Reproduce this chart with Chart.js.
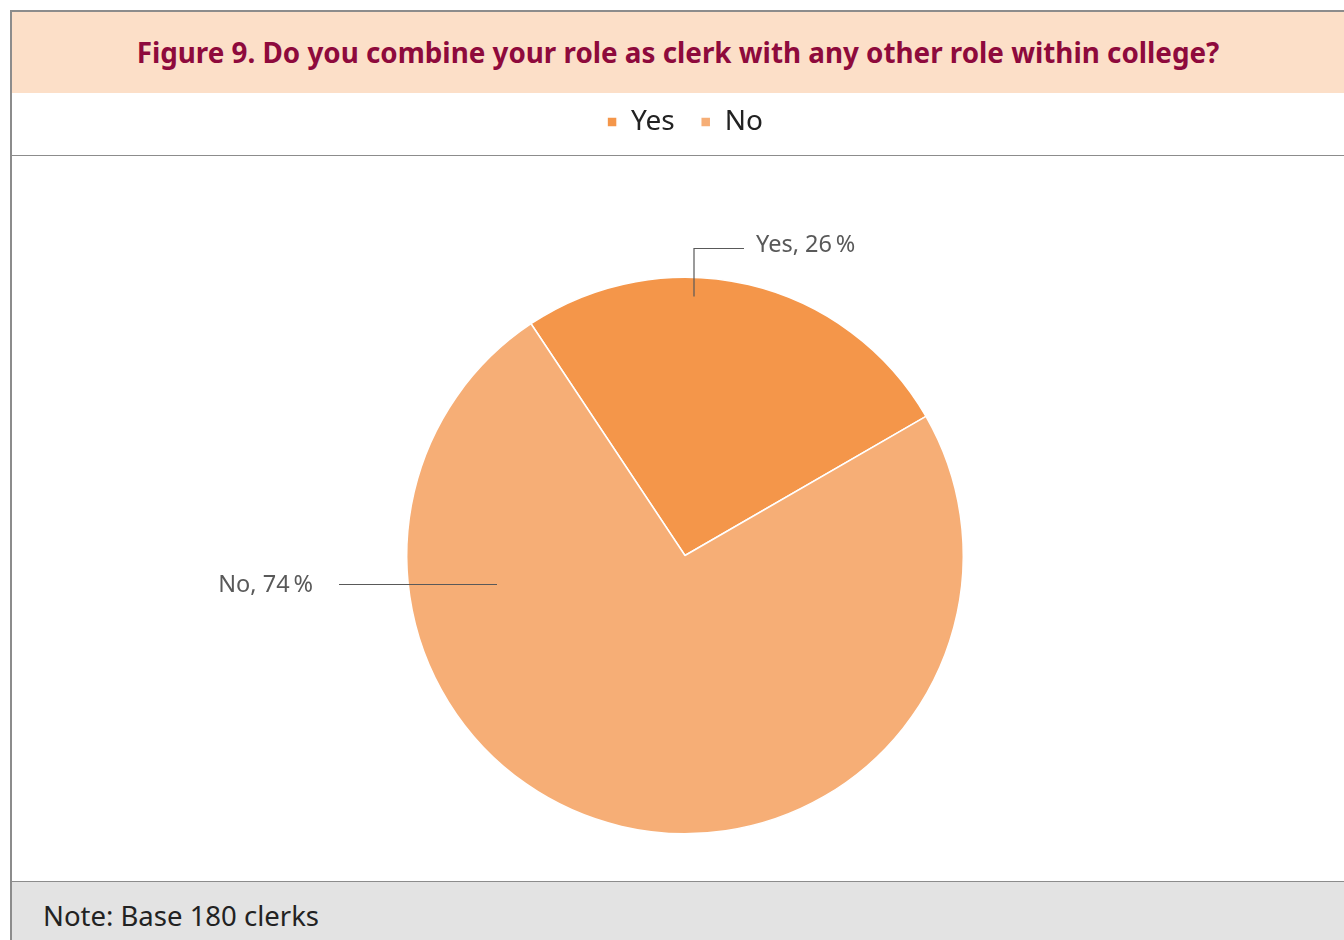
<!DOCTYPE html>
<html>
<head>
<meta charset="utf-8">
<script src="https://cdn.jsdelivr.net/npm/chart.js@4/dist/chart.umd.min.js"></script>
<style>
  body { margin: 0; background: #fff; width: 1344px; height: 940px; overflow: hidden; font-family: "Noto Sans", sans-serif; }
  #frame { position: absolute; left: 10px; top: 10px; width: 1340px; height: 940px; border-left: 2px solid #8c8c8c; border-top: 2px solid #8c8c8c; }
  #head { position: absolute; left: 12px; top: 12px; width: 1332px; height: 81px; background: #fcdfc8; }
  #head h1 { margin: 0; line-height: 81px; text-align: center; font-size: 27.8px; font-weight: 700; color: #8e0a3c; }
  #sep { position: absolute; left: 12px; top: 155px; width: 1332px; height: 1px; background: #8c8c8c; }
  #wrap { position: absolute; left: 12px; top: 80px; width: 1332px; height: 893px; }
  #foot { position: absolute; left: 12px; top: 881px; width: 1332px; height: 59px; background: #e3e3e3; border-top: 1px solid #8c8c8c; }
  #foot p { margin: 0; padding-left: 31px; line-height: 68px; font-size: 27.5px; color: #222; }
</style>
</head>
<body>
<div id="frame"></div>
<div id="head"><h1>Figure 9. Do you combine your role as clerk with any other role within college?</h1></div>
<div id="wrap"><canvas id="chart"></canvas></div>
<div id="sep"></div>
<div id="foot"><p>Note: Base 180 clerks</p></div>
<script>
const categories = ["Yes", "No"];
const shares = [26, 74];
const colours = ["#f4964a", "#f6ae76"];

// leader line offsets from pie centre, per slice
const leaders = [
  { pts: [[9, -259], [9, -307], [59, -307]], text: [71, -310], align: "left" },
  { pts: [[-188, 29], [-346, 29]], text: [-372, 30], align: "right" }
];

const leaderLabels = {
  id: "leaderLabels",
  afterDatasetsDraw(c) {
    const ctx = c.ctx;
    const arcs = c.getDatasetMeta(0).data;
    ctx.save();
    ctx.strokeStyle = "#595959";
    ctx.lineWidth = 1.2;
    ctx.fillStyle = "#595959";
    ctx.font = "23.5px 'Noto Sans'";
    ctx.textBaseline = "middle";
    arcs.forEach((arc, i) => {
      const l = leaders[i];
      ctx.beginPath();
      l.pts.forEach((p, k) => {
        const x = arc.x + p[0], y = arc.y + p[1];
        if (k === 0) ctx.moveTo(x, y); else ctx.lineTo(x, y);
      });
      ctx.stroke();
      ctx.textAlign = l.align;
      ctx.fillText(categories[i] + ", " + shares[i] + "\u2009%", arc.x + l.text[0], arc.y + l.text[1]);
    });
    ctx.restore();
  }
};

new Chart(document.getElementById("chart"), {
  type: "pie",
  data: {
    labels: categories,
    datasets: [{
      data: shares,
      backgroundColor: colours,
      borderColor: "#ffffff",
      borderWidth: 1.5
    }]
  },
  options: {
    responsive: true,
    maintainAspectRatio: false,
    animation: false,
    rotation: -33.6,
    layout: { padding: { top: 2, bottom: 8, left: 394, right: 380 } },
    plugins: {
      legend: {
        position: "top",
        labels: {
          boxWidth: 10,
          boxHeight: 10,
          padding: 26,
          color: "#222",
          font: { family: "Noto Sans", size: 28 }
        }
      },
      tooltip: { enabled: false }
    }
  },
  plugins: [leaderLabels]
});
</script>
</body>
</html>
